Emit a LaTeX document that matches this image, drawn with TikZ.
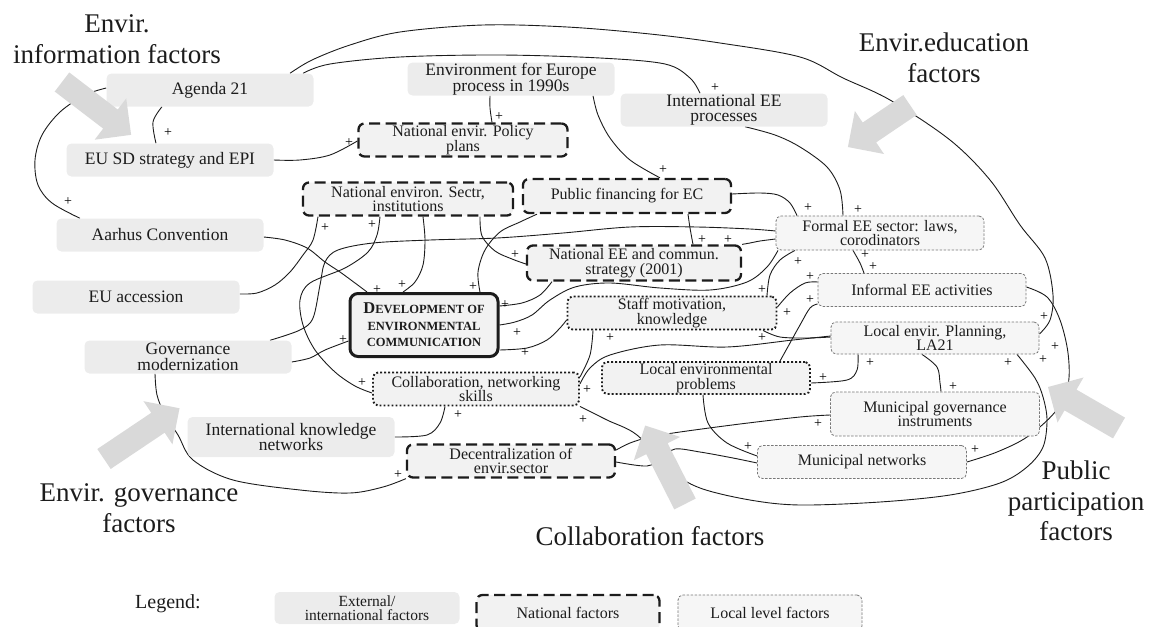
\documentclass[tikz,border=0pt]{standalone}
\usepackage{fontspec}
\setmainfont{Liberation Serif}
\pgfdeclarelayer{background}
\pgfsetlayers{background,main}

\definecolor{ink}{RGB}{28,28,28}
\definecolor{extfill}{RGB}{236,236,236}
\definecolor{natfill}{RGB}{242,242,242}
\definecolor{locfill}{RGB}{246,246,246}
\definecolor{locline}{RGB}{120,120,120}
\definecolor{arrowfill}{RGB}{217,217,217}

\newcommand\xfExt{\fontsize{17.5}{15.5}\selectfont\lineskiplimit=-50pt\relax}
\newcommand\xfLeg{\fontsize{15.5}{14.5}\selectfont\lineskiplimit=-50pt\relax}
\newcommand\xfBox{\fontsize{16}{14.5}\selectfont\lineskiplimit=-50pt\relax}
\newcommand\xfBig{\fontsize{27}{30.5}\selectfont\lineskiplimit=-50pt\relax}
\newcommand\xfMain{\fontsize{12.5}{16.5}\selectfont\bfseries\lineskiplimit=-50pt\relax}
\newcommand\xfPlus{\fontsize{14}{14}\selectfont}

% wide grey block arrow: tail x, tail y, direction (deg), length
\newcommand\factorarrow[4]{%
  \fill[arrowfill, shift={(#1,#2)}, rotate=#3]
    (0,-12) -- ({#4-26},-12) -- ({#4-26},-26) -- (#4,0) --
    ({#4-26},26) -- ({#4-26},12) -- (0,12) -- cycle;}

\begin{document}
\begin{tikzpicture}[x=1pt, y=-1pt,
  ext/.style={fill=extfill, rounded corners=5pt, minimum width=207pt,
    minimum height=33pt, inner sep=0pt, align=center, font=\xfExt, text=ink},
  nat/.style={draw=ink, line width=2.3pt, dash pattern=on 11pt off 5.5pt,
    fill=natfill, rounded corners=6pt, minimum width=209pt, minimum height=33pt,
    inner sep=0pt, align=center, font=\xfBox, text=ink},
  loc/.style={draw=locline, line width=0.8pt, dash pattern=on 2.5pt off 1.5pt,
    fill=locfill, rounded corners=5pt, minimum width=208pt, minimum height=33pt,
    inner sep=0pt, align=center, font=\xfBox, text=ink},
  dotbox/.style={draw=ink, line width=1.9pt, dash pattern=on 1.8pt off 2.2pt,
    fill=natfill, rounded corners=5pt, minimum width=207pt, minimum height=33pt,
    inner sep=0pt, align=center, font=\xfBox, text=ink},
  mainbox/.style={draw=ink, line width=3pt, fill=natfill, rounded corners=8pt,
    minimum width=148pt, minimum height=63pt, inner sep=0pt, align=center,
    font=\xfMain, text=ink},
  biglabel/.style={align=center, font=\xfBig, text=ink, inner sep=0pt},
  pl/.style={font=\xfPlus, text=black, inner sep=0pt},
  link/.style={draw=ink, line width=0.9pt},
  through/.style={smooth, tension=0.55}
]
\useasboundingbox (0,0) rectangle (1155,626);

% ---------- external / international factors
\node[ext] (agenda) at (210,90) {Agenda 21};
\node[ext] (eusd) at (170,160) {EU SD strategy and EPI};
\node[ext] (aarhus) at (160,235) {Aarhus Convention};
\node[ext] (euacc) at (136,297) {EU accession};
\node[ext] (govmod) at (188,357) {Governance\\modernization};
\node[ext, minimum height=40pt] (intkn) at (291,437) {International knowledge\\networks};
\node[ext] (efe) at (511,79) {Environment for Europe\\process in 1990s};
\node[ext] (intee) at (724,110) {International EE\\processes};

% ---------- national factors
\node[nat] (polplan) at (463,140) {National envir. Policy\\plans};
\node[nat, minimum width=210pt] (nenv) at (408,199) {National environ. Sectr,\\institutions};
\node[nat, minimum width=208pt, minimum height=34pt] (pubfin) at (627,196) {Public financing for EC};
\node[nat, minimum width=214pt, minimum height=35pt] (natee) at (634,263) {National EE and commun.\\strategy (2001)};
\node[nat, minimum width=208pt] (decen) at (511,461) {Decentralization of\\envir.sector};

% ---------- central factor
\node[mainbox] (dev) at (424,325)
  {{\fontsize{16.5}{16.5}\selectfont D}EVELOPMENT OF\\ENVIRONMENTAL\\COMMUNICATION};

% ---------- local level factors
\node[dotbox, minimum width=209pt] (staff) at (672,313) {Staff motivation,\\knowledge};
\node[dotbox, minimum width=206pt] (collab) at (476,389) {Collaboration, networking\\skills};
\node[dotbox, minimum width=208pt, minimum height=32pt] (locprob) at (706,378) {Local environmental\\problems};
\node[loc, minimum height=34pt] (formal) at (880,233) {Formal EE sector: laws,\\corodinators};
\node[loc] (informal) at (922,290) {Informal EE activities};
\node[loc, minimum height=32pt] (la21) at (935,338) {Local envir. Planning,\\LA21};
\node[loc, minimum width=209pt, minimum height=44pt] (mungov) at (935,414) {Municipal governance\\instruments};
\node[loc, minimum width=209pt] (munnet) at (862,462) {Municipal networks};

% ---------- influence links
\begin{pgfonlayer}{background}
\draw[link] plot[through] coordinates {(agenda.west |- 0,88) (85,95) (60,112) (42,135) (35,160) (38,185) (52,203) (80,0 |- aarhus.north)};
\draw[link] plot[through] coordinates {(162,0 |- agenda.south) (153,122) (156,0 |- eusd.north)};
\draw[link] plot[through] coordinates {(eusd.east) (300,160) (330,155) (polplan.west |- 0,141)};
\draw[link] plot[through] coordinates {(490,0 |- efe.south) (490,108) (492,0 |- polplan.north)};
\draw[link] plot[through] coordinates {(593,0 |- efe.south) (598,115) (610,138) (630,160) (660,0 |- pubfin.north)};
\draw[link] plot[through] coordinates {(303,0 |- agenda.north) (330,64) (400,57) (500,55) (600,58) (665,64) (690,78) (700,0 |- intee.north)};
\draw[link] plot[through] coordinates {(290,0 |- agenda.north) (312,60) (350,45) (400,32) (483,25) (567,27) (650,34) (720,43) (800,57) (843,78) (890,100) (950,140) (990,180) (1020,225) (1045,258) (1053,295) (1050,320) (la21.east |- 0,334)};
\draw[link] plot[through] coordinates {(745,0 |- intee.south) (775,135) (800,147) (827,167) (840,190) (843,0 |- formal.north)};
\draw[link] plot[through] coordinates {(pubfin.east |- 0,194) (760,193) (778,195) (790,203) (797,0 |- formal.north)};
\draw[link] plot[through] coordinates {(688,0 |- pubfin.south) (690,228) (693,0 |- natee.north)};
\draw[link] plot[through] coordinates {(natee.north east) (750,243) (760,241) (formal.west |- 0,239)};
\draw[link] plot[through] coordinates {(270,0 |- govmod.north) (300,330) (313,318) (320,285) (325,262) (338,250) (373,243) (430,240) (497,238) (563,233) (630,227) (697,227) (750,229) (formal.west |- 0,231)};
\draw[link] plot[through] coordinates {(aarhus.east |- 0,237) (285,240) (307,248) (325,262) (340,272) (355,283) (367,0 |- dev.north)};
\draw[link] plot[through] coordinates {(euacc.east |- 0,294) (257,293) (275,285) (290,272) (303,255) (313,240) (318,0 |- nenv.south)};
\draw[link] plot[through] coordinates {(govmod.east |- 0,362) (310,358) (325,350) (dev.west |- 0,341)};
\draw[link] plot[through] coordinates {(380,0 |- nenv.south) (377,235) (368,252) (345,268) (310,283) (300,300) (303,325) (315,350) (335,372) (355,386) (collab.west |- 0,393)};
\draw[link] plot[through] coordinates {(423,0 |- nenv.south) (425,240) (423,265) (415,282) (403,0 |- dev.north)};
\draw[link] plot[through] coordinates {(480,0 |- nenv.south) (482,236) (495,251) (512,259) (natee.west |- 0,264)};
\draw[link] plot[through] coordinates {(537,0 |- pubfin.south) (520,222) (500,232) (485,250) (478,272) (480,0 |- dev.north)};
\draw[link] plot[through] coordinates {(552,0 |- natee.south) (540,295) (522,303) (dev.east |- 0,306)};
\draw[link] plot[through] coordinates {(dev.east |- 0,325) (515,322) (532,315) (550,300) (575,287) (610,283) (660,288) (710,290) (747,282) (767,267) (778,0 |- formal.south)};
\draw[link] plot[through] coordinates {(dev.east |- 0,350) (527,348) (547,340) (560,328) (staff.west |- 0,320)};
\draw[link] plot[through] coordinates {(767,0 |- staff.north) (770,275) (780,260) (795,0 |- formal.south)};
\draw[link] plot[through] coordinates {(staff.east |- 0,307) (790,293) (805,283) (informal.west |- 0,282)};
\draw[link] plot[through] coordinates {(780,0 |- locprob.north) (790,343) (800,325) (810,308) (informal.west |- 0,304)};
\draw[link] plot[through] coordinates {(763,0 |- staff.south) (780,337) (807,338) (la21.west |- 0,337)};
\draw[link] plot[through] coordinates {(collab.east |- 0,384) (590,368) (610,355) (660,345) (727,347) (793,340) (la21.west |- 0,336)};
\draw[link] plot[through] coordinates {(593,0 |- staff.south) (590,355) (collab.east |- 0,377)};
\draw[link] plot[through] coordinates {(collab.south east) (607,420) (637,435) (670,470) (700,488) (750,500) (800,505) (880,502) (950,495) (1000,483) (1027,467) (1043,447) (1047,420) (1043,397) (1035,378) (1017,0 |- la21.south)};
\draw[link] plot[through] coordinates {(decen.east |- 0,450) (630,443) (650,437) (680,432) (740,424) (800,417) (mungov.west |- 0,415)};
\draw[link] plot[through] coordinates {(decen.east |- 0,462) (647,466) (662,458) (675,449) (700,452) (733,458) (munnet.west |- 0,463)};
\draw[link] plot[through] coordinates {(703,0 |- locprob.south) (708,423) (727,443) (munnet.west |- 0,456)};
\draw[link] plot[through] coordinates {(853,0 |- formal.south) (860,263) (864,0 |- informal.north)};
\draw[link] plot[through] coordinates {(858,0 |- la21.south) (857,370) (847,380) (locprob.east |- 0,383)};
\draw[link] plot[through] coordinates {(922,0 |- la21.south) (937,367) (940,383) (941,0 |- mungov.north)};
\draw[link] plot[through] coordinates {(informal.east |- 0,287) (1047,297) (1060,320) (1068,353) (1068,385) (1055,412) (1027,437) (997,452) (munnet.east |- 0,462)};
\draw[link] plot[through] coordinates {(intkn.east |- 0,437) (427,435) (440,423) (445,0 |- collab.south)};
\draw[link] plot[through] coordinates {(155,0 |- govmod.south) (157,395) (165,415) (178,435) (193,460) (233,480) (300,490) (350,493) (383,487) (decen.south west)};
\end{pgfonlayer}

% ---------- polarity marks
\foreach \px/\py [count=\k] in {68/202, 168/133, 349/143, 499/117, 663/170,
    715/88, 858/210, 808/208, 702/240, 728/240, 377/290, 325/228, 343/340,
    372/225, 362/383, 402/285, 515/255, 473/287, 505/305, 517/333, 525/353,
    762/290, 798/262, 787/313, 810/277, 810/300, 762/338, 610/338, 587/390,
    583/420, 458/415, 398/475, 818/424, 748/447, 865/255, 873/267, 823/378,
    870/363, 953/387, 1044/317, 1055/347, 1043/360, 1008/363, 975/450}
  \node[pl] (plus\k) at (\px,\py) {+};

% ---------- factor group arrows
\factorarrow{62}{82}{-37.4}{87}
\factorarrow{910}{105}{-145.9}{75}
\factorarrow{104}{459}{33.9}{91}
\factorarrow{685}{504}{116.9}{88}
\factorarrow{1119}{428}{150}{82}

% ---------- factor group labels
\node[biglabel] (lblinfo) at (117,39) {Envir.\\information factors};
\node[biglabel] (lbledu) at (944,58) {Envir.education\\factors};
\node[biglabel] (lblgov) at (139,508) {Envir. governance\\factors};
\node[biglabel] (lblcol) at (650,536) {Collaboration factors};
\node[biglabel] (lblpub) at (1076,501) {Public\\participation\\factors};

% ---------- legend
\node[font=\fontsize{20}{20}\selectfont, text=ink, inner sep=0pt] (legtitle) at (168,604) {Legend:};
\node[ext, minimum width=185pt, minimum height=32pt, font=\xfLeg] (legext) at (367,608) {External/\\international factors};
\node[nat, minimum width=183pt, minimum height=36pt] (legnat) at (568,613) {National factors};
\node[loc, minimum width=184pt, minimum height=36pt] (legloc) at (770,613) {Local level factors};
\end{tikzpicture}
\end{document}
